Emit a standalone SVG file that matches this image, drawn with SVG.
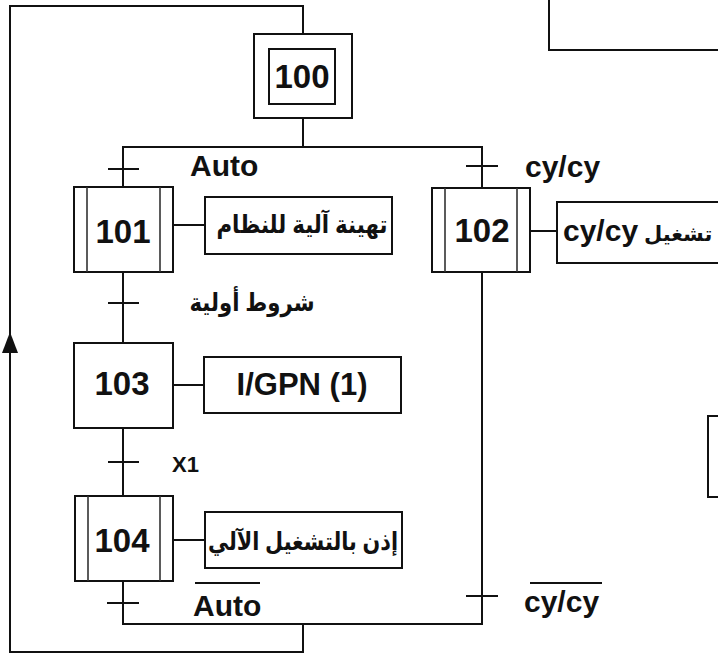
<svg xmlns="http://www.w3.org/2000/svg" width="718" height="653" viewBox="0 0 718 653">
<style>
.ln{fill:none;stroke:#111;stroke-width:2}
.bx{fill:#fff;stroke:#111;stroke-width:2}
.in{fill:none;stroke:#333;stroke-width:1.6}
.num{font-family:"Liberation Sans",Arial,sans-serif;font-weight:bold;font-size:33px;fill:#111;text-anchor:middle}
.lat{font-family:"Liberation Sans",Arial,sans-serif;font-weight:bold;font-size:30px;fill:#111}
.ar{font-family:"Liberation Sans","DejaVu Sans",sans-serif;font-weight:bold;font-size:25px;fill:#111;text-anchor:middle}
</style>
<rect width="718" height="653" fill="#fff"/>
<g id="connectors">
<path class="ln" d="M303,118 V147 M123,147 H482 V624 H123 Z"/>
<path class="ln" d="M123,147 V624"/>
<path class="ln" d="M303,624 V652 H10 V6 H303 V34"/>
<polygon points="10,332 2,353 18,353" fill="#111"/>
<path class="ln" d="M108,169 H139 M108,303 H139 M108,462 H139 M107,603 H139 M466,166 H498 M466,596 H498"/>
<path class="ln" d="M173,225 H205 M173,385 H204 M173,540 H205 M530,231 H557"/>
<path class="ln" d="M195,583 H260 M530,583 H602"/>
</g>
<g id="labels">
<text class="lat" x="190" y="176">Auto</text>
<text class="lat" x="525" y="177">cy/cy</text>
<text class="ar" x="252" y="311" textLength="125" lengthAdjust="spacingAndGlyphs">شروط أولية</text>
<text class="lat" x="172" y="472" style="font-size:22px">X1</text>
<text class="lat" x="193" y="616">Auto</text>
<text class="lat" x="524" y="612">cy/cy</text>
</g>
<g id="step100">
<rect class="bx" x="254" y="34" width="98" height="84"/>
<rect class="bx" x="269" y="49" width="66" height="55"/>
<text class="num" x="302" y="88">100</text>
</g>
<g id="step101">
<rect class="bx" x="74" y="187" width="99" height="85"/>
<path class="in" d="M87,187 V272 M160,187 V272"/>
<text class="num" x="123" y="243">101</text>
</g>
<g id="action101">
<rect class="bx" x="205" y="197" width="187" height="57"/>
<text class="ar" x="302" y="233" textLength="171" lengthAdjust="spacingAndGlyphs">تهينة آلية للنظام</text>
</g>
<g id="step102">
<rect class="bx" x="432" y="188" width="98" height="84"/>
<path class="in" d="M445,188 V272 M517,188 V272"/>
<text class="num" x="482" y="242">102</text>
</g>
<g id="action102">
<rect class="bx" x="557" y="202" width="200" height="61"/>
<text class="ar" x="563" y="241" direction="rtl" style="text-anchor:end;font-size:21px">تشغيل <tspan style="font-size:30px">cy/cy</tspan></text>
</g>
<g id="step103">
<rect class="bx" x="74" y="343" width="99" height="85"/>
<text class="num" x="122" y="395">103</text>
</g>
<g id="action103">
<rect class="bx" x="204" y="357" width="197" height="56"/>
<text class="lat" x="302" y="395" style="font-size:31px;text-anchor:middle">I/GPN (1)</text>
</g>
<g id="step104">
<rect class="bx" x="75" y="496" width="98" height="85"/>
<path class="in" d="M88,496 V581 M160,496 V581"/>
<text class="num" x="122" y="552">104</text>
</g>
<g id="action104">
<rect class="bx" x="205" y="512" width="197" height="56"/>
<text class="ar" x="303" y="550" textLength="190" lengthAdjust="spacingAndGlyphs">إذن بالتشغيل الآلي</text>
</g>
<g id="partial-top-right">
<rect class="bx" x="549" y="-10" width="200" height="60"/>
</g>
<g id="partial-right">
<rect class="bx" x="708" y="416" width="50" height="81"/>
</g>
</svg>
